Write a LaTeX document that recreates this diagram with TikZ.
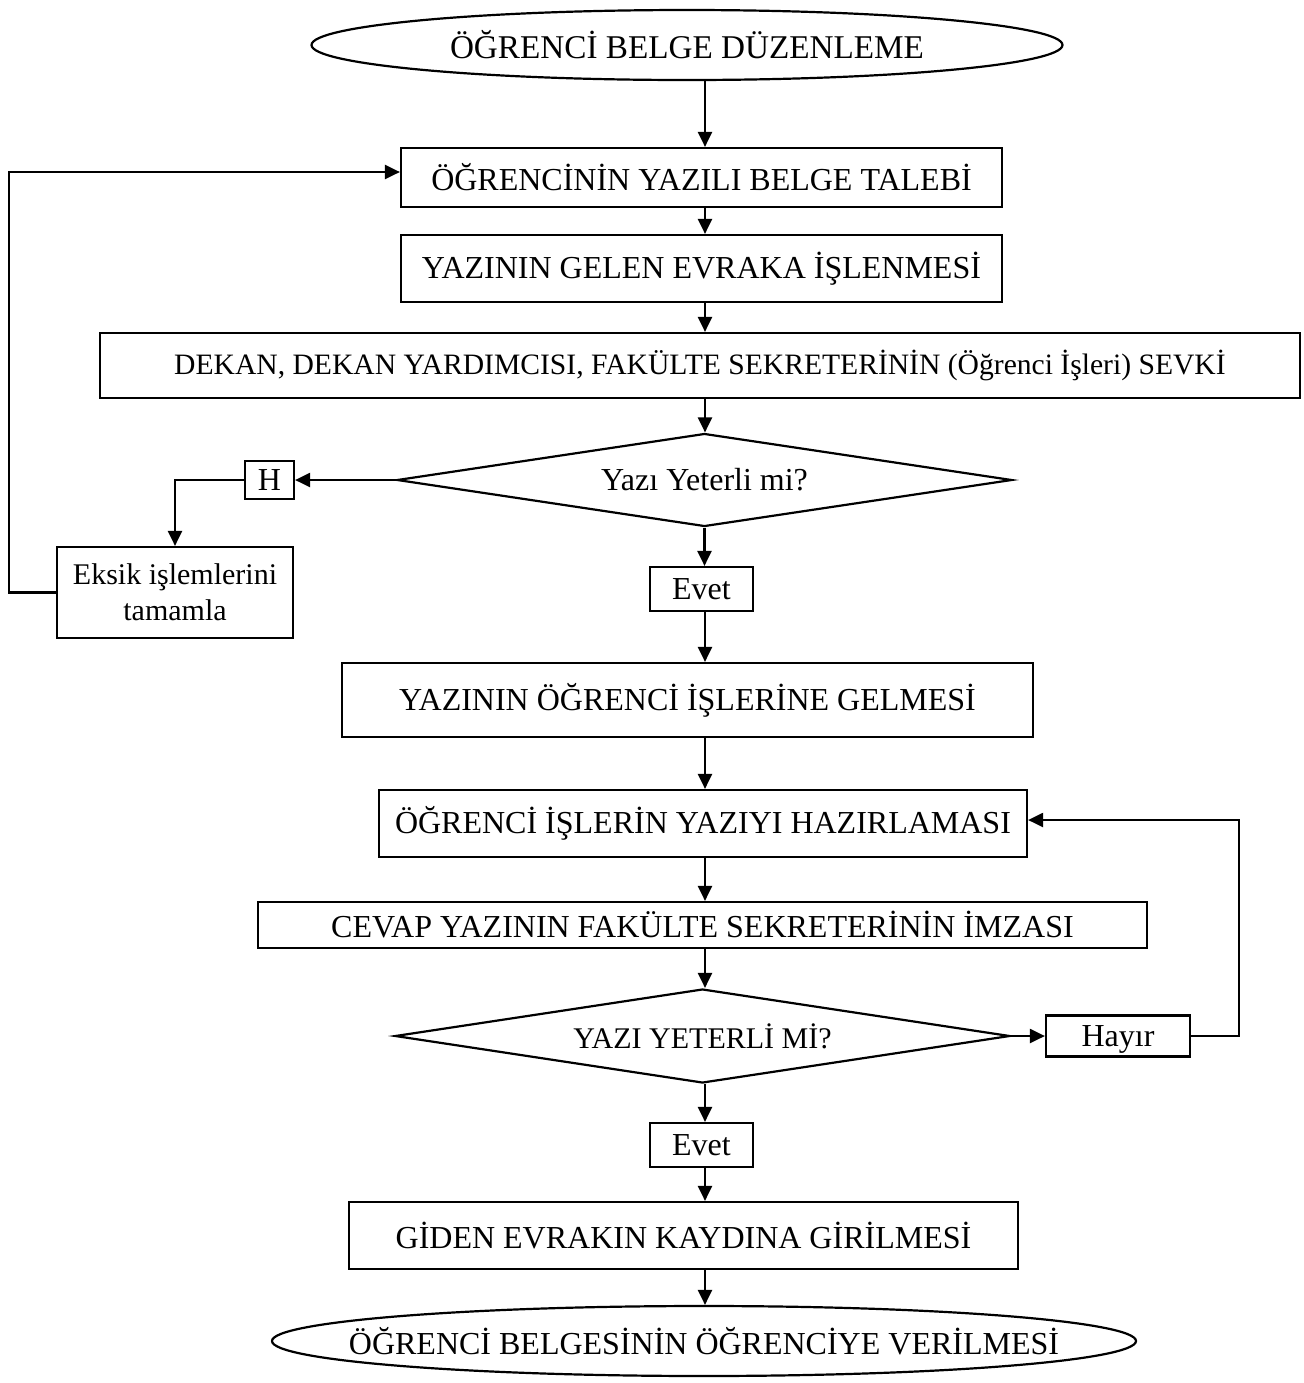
\documentclass[tikz,border=0pt]{standalone}
\usepackage{fontspec}
\setmainfont{Liberation Serif}
\usetikzlibrary{arrows.meta,positioning,shapes.geometric,calc}

\begin{document}
\begin{tikzpicture}[
        x=0.5pt, y=-0.5pt,
        line width=1.1pt,
        box/.style={draw, rectangle, inner sep=0pt, align=center, font=\fontsize{16}{19}\selectfont},
        term/.style={draw, ellipse, inner sep=0pt},
        karar/.style={draw, diamond, inner sep=0pt, align=center, font=\fontsize{15}{18}\selectfont},
        etiket/.style={draw, rectangle, inner sep=0pt, text depth=0pt, align=center, font=\fontsize{16}{19}\selectfont},
        arrow/.style={-{Triangle[length=7.5pt, width=7pt]}}
    ]
    \useasboundingbox (0,0) rectangle (1303,1383);
    % Nodes
    \node[term, minimum width=375.5pt, minimum height=35pt,
        label={[font=\fontsize{16.6}{19}\selectfont]center:ÖĞRENCİ BELGE DÜZENLEME}] (basla) at (687,45) {};
    \node[box, minimum width=300.5pt, minimum height=29.5pt] (talep) at (701.5,177.5) {ÖĞRENCİNİN YAZILI BELGE TALEBİ};
    \node[box, minimum width=300.5pt, minimum height=33.5pt] (gelen) at (701.5,268.5) {YAZININ GELEN EVRAKA İŞLENMESİ};
    \node[box, minimum width=600pt, minimum height=32.5pt, font=\fontsize{14.8}{18}\selectfont] (sevk) at (700,365.5) {DEKAN, DEKAN YARDIMCISI, FAKÜLTE SEKRETERİNİN (Öğrenci İşleri) SEVKİ};
    \node[karar, minimum width=307.5pt, minimum height=46.5pt, shape aspect=6.6, font=\fontsize{16}{19}\selectfont] (karar1) at (704.5,480) {Yazı Yeterli mi?};
    \node[etiket, minimum width=24.5pt, minimum height=19pt] (hayir1) at (269.5,480) {H};
    \node[box, minimum width=118pt, minimum height=45.5pt, font=\fontsize{15}{18}\selectfont] (eksik) at (175,592.5) {Eksik işlemlerini\\tamamla};
    \node[etiket, minimum width=51.5pt, minimum height=22pt] (evet1) at (701.5,589) {Evet};
    \node[box, minimum width=345.5pt, minimum height=37pt] (gelme) at (687.5,700) {YAZININ ÖĞRENCİ İŞLERİNE GELMESİ};
    \node[box, minimum width=324pt, minimum height=33.5pt] (hazir) at (703,823.5) {ÖĞRENCİ İŞLERİN YAZIYI HAZIRLAMASI};
    \node[box, minimum width=444.5pt, minimum height=23pt] (imza) at (702.5,925) {CEVAP YAZININ FAKÜLTE SEKRETERİNİN İMZASI};
    \node[karar, minimum width=307.5pt, minimum height=47pt, shape aspect=6.5] (karar2) at (702.5,1036) {YAZI YETERLİ Mİ?};
    \node[etiket, minimum width=72pt, minimum height=20.5pt] (hayir2) at (1118,1036) {Hayır};
    \node[etiket, minimum width=51.5pt, minimum height=22pt] (evet2) at (701.5,1145) {Evet};
    \node[box, minimum width=334.5pt, minimum height=33.5pt] (giden) at (683.5,1235.5) {GİDEN EVRAKIN KAYDINA GİRİLMESİ};
    \node[term, minimum width=432pt, minimum height=35pt,
        label={[font=\fontsize{16}{19}\selectfont]center:ÖĞRENCİ BELGESİNİN ÖĞRENCİYE VERİLMESİ}] (bitir) at (704,1341) {};
    \coordinate (hat) at (705,0);
    % Arrows
    \draw[arrow] (basla.south -| hat) -- (talep.north -| hat);
    \draw[arrow] (talep.south -| hat) -- (gelen.north -| hat);
    \draw[arrow] (gelen.south -| hat) -- (sevk.north -| hat);
    \draw[arrow] (sevk.south -| hat) -- (karar1.north -| hat);
    \draw[arrow] (karar1.south) -- (evet1.north -| karar1.south);
    \draw[arrow] (evet1.south -| hat) -- (gelme.north -| hat);
    \draw[arrow] (gelme.south -| hat) -- (hazir.north -| hat);
    \draw[arrow] (hazir.south -| hat) -- (imza.north -| hat);
    \draw[arrow] (imza.south -| hat) -- (karar2.north -| hat);
    \draw[arrow] (karar2.south -| hat) -- (evet2.north -| hat);
    \draw[arrow] (evet2.south -| hat) -- (giden.north -| hat);
    \draw[arrow] (giden.south -| hat) -- (bitir.north -| hat);
    \draw[arrow] (karar1.west) -- (hayir1.east);
    \draw[arrow] (hayir1.west) -| (eksik.north);
    \draw[arrow] (eksik.west) -- ++(-47,0) |- ([yshift=2.75pt]talep.west);
    \draw[arrow] (karar2.east) -- (hayir2.west);
    \draw[arrow] (hayir2.east) -- ++(48,0) |- ([yshift=1.75pt]hazir.east);
\end{tikzpicture}
\end{document}
